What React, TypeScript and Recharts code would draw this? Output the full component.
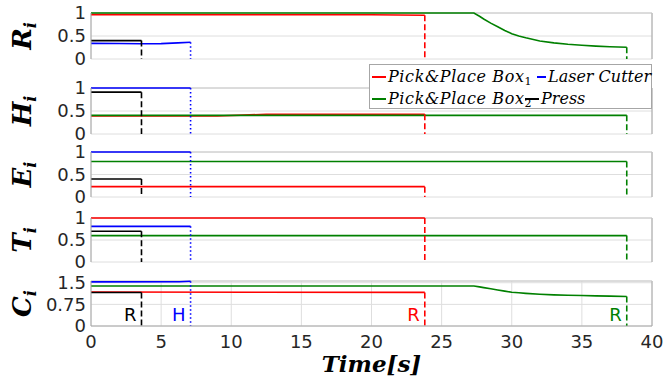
import React from 'react'
import { LineChart, Line, XAxis, YAxis, CartesianGrid, ReferenceLine, ReferenceDot } from 'recharts'

// series order: Pick&Place Box1, Laser Cutter, Pick&Place Box2, Press
const NAMES = ['Pick&Place Box', 'Laser Cutter', 'Pick&Place Box', 'Press']
const SUBS = ['1', '', '2', '']
const COLORS = ['#ff0000', '#0000ff', '#008000', '#000000']
const DROP_DASH = ['6 3', '1.5 2.5', '6 3', '6 3']

// [time, value] pairs
const R_SERIES = [
  [[0, 0.965], [20, 0.962], [23.8, 0.95]],
  [[0, 0.34], [2, 0.338], [3.6, 0.33], [5, 0.335], [6.2, 0.35], [7.1, 0.365]],
  [[0, 1], [27.3, 1], [27.7, 0.93], [28, 0.87], [28.5, 0.78], [29, 0.7], [29.5, 0.62], [30, 0.55], [30.5, 0.5],
    [31, 0.46], [32, 0.39], [33, 0.35], [34, 0.32], [35, 0.3], [36, 0.28], [37, 0.265], [38.2, 0.255]],
  [[0, 0.4], [3.6, 0.4]],
]
const H_SERIES = [
  [[0, 0.39], [9, 0.39], [12.5, 0.43], [23.8, 0.43]],
  [[0, 1], [7.1, 1]],
  [[0, 0.405], [38.2, 0.405]],
  [[0, 0.91], [3.6, 0.91]],
]
const E_SERIES = [
  [[0, 0.23], [23.8, 0.23]],
  [[0, 1], [7.1, 1]],
  [[0, 0.79], [38.2, 0.79]],
  [[0, 0.4], [3.6, 0.4]],
]
const T_SERIES = [
  [[0, 1], [23.8, 1]],
  [[0, 0.81], [7.1, 0.81]],
  [[0, 0.6], [38.2, 0.6]],
  [[0, 0.7], [3.6, 0.7]],
]
const C_SERIES = [
  [[0, 1.18], [12, 1.17], [23.8, 1.165]],
  [[0, 1.53], [6.3, 1.535], [7.1, 1.55]],
  [[0, 1.385], [27.3, 1.385], [27.7, 1.355], [28, 1.33], [28.5, 1.29], [29, 1.25], [29.5, 1.21], [30, 1.17],
    [30.5, 1.15], [31, 1.13], [32, 1.1], [33, 1.08], [34, 1.065], [35, 1.055], [36, 1.045], [37, 1.035], [38.2, 1.025]],
  [[0, 1.16], [3.6, 1.16]],
]
const C_TAGS = ['R', 'H', 'R', 'R']
const C_TAG_V = 0.39

const X_TICKS_TOP = [0, 10, 20, 30, 40]
const X_TICKS_BOTTOM = [0, 5, 10, 15, 20, 25, 30, 35, 40]
const Y_TICKS = [0, 0.5, 1]
const C_TICKS = [0, 0.75, 1.5]

const W = 664
const ML = 31
const YW = 60
const MR = 12
const AXIS = '#a6a6a6'
const GRID = '#dedede'
const TXT = '#262626'
const TICK_FONT = { fontSize: 18, fill: TXT, fontFamily: 'DejaVu Sans' }

const PANELS = [
  { sym: 'R', top: 13, h: 46, series: R_SERIES, domain: [0, 1], ticks: Y_TICKS },
  { sym: 'H', top: 88, h: 46, series: H_SERIES, domain: [0, 1], ticks: Y_TICKS },
  { sym: 'E', top: 152, h: 45, series: E_SERIES, domain: [0, 1], ticks: Y_TICKS },
  { sym: 'T', top: 218, h: 44, series: T_SERIES, domain: [0, 1], ticks: Y_TICKS },
  { sym: 'C', top: 281, h: 45, series: C_SERIES, domain: [0, 1.56], ticks: C_TICKS },
]

const toRows = (pts: number[][]) => pts.map(([t, v]) => ({ t, v }))

function Panel({ p, isBottom }: { p: typeof PANELS[number]; isBottom: boolean }) {
  const mt = 12
  const xh = isBottom ? 60 : 0
  const mb = isBottom ? 0 : 12
  return (
    <div style={{ position: 'absolute', left: 0, top: p.top - mt }}>
      <LineChart width={W} height={p.h + mt + mb + xh} margin={{ top: mt, right: MR, bottom: mb, left: ML }}>
        <CartesianGrid stroke={GRID} strokeWidth={1} />
        <XAxis type="number" dataKey="t" domain={[0, 40]} allowDataOverflow
          ticks={isBottom ? X_TICKS_BOTTOM : X_TICKS_TOP} interval={0}
          height={xh} tickLine={false} tickSize={0} tickMargin={9}
          axisLine={{ stroke: AXIS }}
          tick={isBottom ? TICK_FONT : false} />
        <YAxis type="number" domain={p.domain} ticks={p.ticks} interval={0} width={YW}
          tickLine={false} tickSize={0} tickMargin={5} axisLine={{ stroke: AXIS }}
          tick={TICK_FONT} />
        <ReferenceLine x={40} stroke={AXIS} />
        <ReferenceLine y={p.domain[1]} stroke="#c8c8c8" />
        {p.series.map((pts, i) => (
          <Line key={'s' + i} data={toRows(pts)} dataKey="v" type="linear" stroke={COLORS[i]}
            strokeWidth={1.6} dot={false} isAnimationActive={false} />
        ))}
        {p.series.map((pts, i) => {
          const last = pts[pts.length - 1]
          return (
            <Line key={'d' + i} data={[{ t: last[0], v: last[1] }, { t: last[0], v: 0 }]} dataKey="v"
              type="linear" stroke={COLORS[i]} strokeWidth={1.6} strokeDasharray={DROP_DASH[i]}
              dot={false} isAnimationActive={false} />
          )
        })}
        {isBottom && p.series.map((pts, i) => (
          <ReferenceDot key={'tag' + i} x={pts[pts.length - 1][0]} y={C_TAG_V} r={0} stroke="none"
            label={{ value: C_TAGS[i], position: 'left', offset: 5, fill: COLORS[i], fontSize: 18, fontFamily: 'DejaVu Sans' }} />
        ))}
      </LineChart>
    </div>
  )
}

function LegendBox() {
  // per-entry placement inside the legend box: [left of line, line width]
  const cells = [
    { left: 2, top: 1, lw: 14 }, { left: 167, top: 1, lw: 9 },
    { left: 2, top: 23, lw: 14 }, { left: 155, top: 23, lw: 14 },
  ]
  return (
    <div style={{
      position: 'absolute', left: 369, top: 64, width: 283, height: 45, boxSizing: 'border-box',
      border: '1px solid #a6a6a6', background: '#fff',
      fontFamily: 'DejaVu Serif', fontStyle: 'italic', fontSize: 16, color: '#000',
    }}>
      {NAMES.map((n, i) => (
        <div key={i} style={{ position: 'absolute', left: cells[i].left, top: cells[i].top, height: 22, lineHeight: '22px', display: 'flex', alignItems: 'center', whiteSpace: 'nowrap' }}>
          <span style={{ display: 'inline-block', width: cells[i].lw, height: 2, background: COLORS[i], marginRight: 2 }} />
          <span style={{ letterSpacing: SUBS[i] ? 0.6 : 0 }}>
            {n}{SUBS[i] && <sub style={{ fontStyle: 'normal', fontSize: 11, lineHeight: 0, verticalAlign: '-3px' }}>{SUBS[i]}</sub>}
          </span>
        </div>
      ))}
    </div>
  )
}

export default function App() {
  return (
    <div style={{ position: 'absolute', left: 0, top: 0, width: W, height: 385, background: '#fff', overflow: 'hidden' }}>
      {PANELS.map((p, i) => <Panel key={p.sym} p={p} isBottom={i === PANELS.length - 1} />)}
      <svg width={W} height={385} style={{ position: 'absolute', left: 0, top: 0, pointerEvents: 'none' }}>
        {PANELS.map(p => {
          const cy = p.top + p.h / 2
          return (
            <text key={p.sym} x={31} y={cy} transform={`rotate(-90, 31, ${cy})`} textAnchor="middle"
              fontFamily="DejaVu Serif" fontWeight="bold" fontStyle="italic" fontSize={26} fill="#000">
              {p.sym}<tspan dy={5} fontSize={16}>i</tspan>
            </text>
          )
        })}
        <text x={(ML + YW + W - MR) / 2} y={372} textAnchor="middle" fontFamily="DejaVu Serif"
          fontWeight="bold" fontStyle="italic" fontSize={23} fill="#000">Time[s]</text>
      </svg>
      <LegendBox />
    </div>
  )
}
